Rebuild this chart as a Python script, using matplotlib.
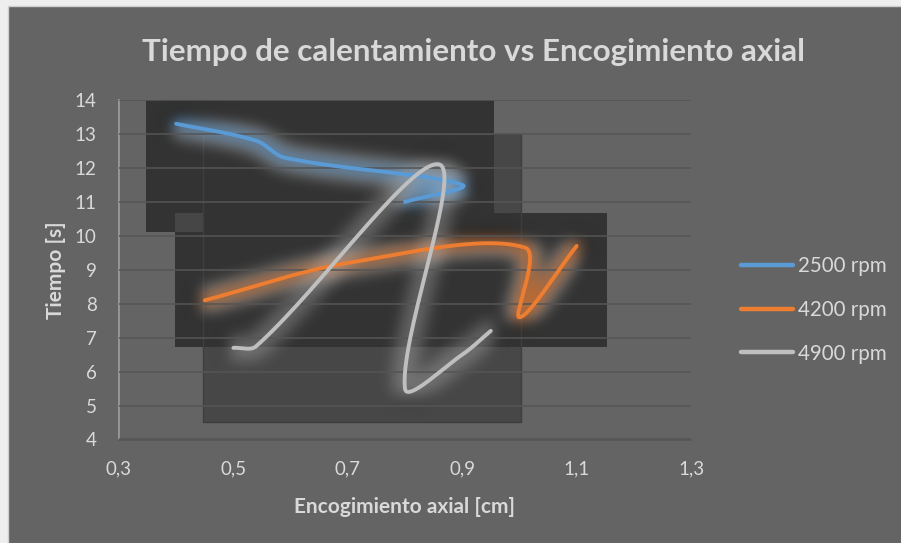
import numpy as np
import matplotlib
matplotlib.use("Agg")
import matplotlib.pyplot as plt
from matplotlib.patches import Rectangle
from matplotlib.ticker import FuncFormatter

# ---- data -------------------------------------------------------------
series_names = ["2500 rpm", "4200 rpm", "4900 rpm"]
x_2500 = [0.40, 0.54, 0.59, 0.90, 0.80]
y_2500 = [13.3, 12.8, 12.3, 11.5, 11.0]
x_4200 = [0.45, 0.70, 1.01, 1.00, 1.10]
y_4200 = [8.1, 9.2, 9.65, 7.6, 9.7]
x_4900 = [0.50, 0.54, 0.86, 0.80, 0.90, 0.95]
y_4900 = [6.7, 6.75, 12.1, 5.5, 6.5, 7.2]
x_ticks = [0.3, 0.5, 0.7, 0.9, 1.1, 1.3]
y_ticks = list(range(4, 15))

colors = ["#5b9bd5", "#ed7d31", "#bfbfbf"]
glow_alpha = [0.8, 0.75, 0.4]
box_colors = ["#333333", "#333333", "#474747"]

BG = "#646464"
TXT = "#d9d9d9"
FONT = ["Lato", "DejaVu Sans"]
plt.rcParams["font.family"] = FONT


def smooth(ax, xs, ys, n=80):
    """Bezier smoothing in screen space, handle lengths scaled by segment length."""
    p = ax.transData.transform(np.column_stack([xs, ys]).astype(float))
    m = len(p)
    d = np.hypot(*np.diff(p, axis=0).T)
    out = []
    for i in range(m - 1):
        a, b = p[i], p[i + 1]
        prev = p[i - 1] if i > 0 else a
        nxt = p[i + 2] if i + 2 < m else b
        da = d[i - 1] if i > 0 else d[i]
        db = d[i + 1] if i + 2 < m else d[i]
        c1 = a + (b - prev) / 3.0 * d[i] / (da + d[i]) if i > 0 else a + (b - a) / 3.0
        c2 = b - (nxt - a) / 3.0 * d[i] / (d[i] + db) if i + 2 < m else b - (b - a) / 3.0
        t = np.linspace(0, 1, n)[:, None]
        seg = ((1 - t) ** 3) * a + 3 * ((1 - t) ** 2) * t * c1 \
            + 3 * (1 - t) * t ** 2 * c2 + t ** 3 * b
        out.append(seg if i == 0 else seg[1:])
    pts = ax.transData.inverted().transform(np.vstack(out))
    return pts[:, 0], pts[:, 1]


def gaussian_blur(sigma, alpha):
    def filt(im, dpi):
        s = sigma * dpi / 72.0
        pad = int(3 * s) + 2
        a = np.pad(im, ((pad, pad), (pad, pad), (0, 0)))
        r = int(3 * s)
        k = np.exp(-0.5 * (np.arange(-r, r + 1) / s) ** 2)
        k /= k.sum()
        for axis in (0, 1):
            acc = np.zeros_like(a)
            for j, w in zip(range(-r, r + 1), k):
                acc += w * np.roll(a, j, axis=axis)
            a = acc
        a[..., 3] = np.clip(a[..., 3] * alpha, 0, 1)
        return a, -pad, -pad
    return filt


fig = plt.figure(figsize=(9.01, 5.43), dpi=100, facecolor="#eeeeee")
fig.patches.append(Rectangle((8 / 901, -0.1), 1.2, 1.1 - 6 / 543,
                             transform=fig.transFigure, facecolor=BG,
                             edgecolor="#cfcfcf", linewidth=1.0, zorder=-5))

ax = fig.add_axes([119 / 901, 1 - 439.5 / 543, 572 / 901, 339.5 / 543])
ax.set_zorder(1)
ax.set_facecolor("none")
ax.set_xlim(0.3, 1.3)
ax.set_ylim(4, 14)
fig.canvas.draw()

curves = [smooth(ax, xs, ys) for xs, ys in
          [(x_2500, y_2500), (x_4200, y_4200), (x_4900, y_4900)]]

# glow bounding boxes (30 px around each curve)
inv = ax.transData.inverted()
boxes = []
for cx, cy in curves:
    pix = ax.transData.transform(np.column_stack([cx, cy]))
    lo = pix.min(axis=0) - 30
    hi = pix.max(axis=0) + 30
    (x0, y0), (x1, y1) = inv.transform([lo, hi])
    boxes.append((x0, y0, x1, y1))

for i in [2, 1, 0]:
    x0, y0, x1, y1 = boxes[i]
    ax.add_patch(Rectangle((x0, y0), x1 - x0, y1 - y0, facecolor=box_colors[i],
                           edgecolor="none", zorder=1))
# lighter patch where the first two boxes overlap outside the third
b0, b1, b2 = boxes
ix0, ix1 = max(b0[0], b1[0]), min(b0[2], b1[2], b2[0])
iy0, iy1 = max(b0[1], b1[1]), min(b0[3], b1[3])
if ix1 > ix0 and iy1 > iy0:
    ax.add_patch(Rectangle((ix0, iy0), ix1 - ix0, iy1 - iy0,
                           facecolor="#464646", edgecolor="none", zorder=1.1))
# faint outline of the wide box showing through
x0, y0, x1, y1 = boxes[2]
ax.add_patch(Rectangle((x0, y0), x1 - x0, y1 - y0, facecolor="none",
                       edgecolor="#3e3e3e", linewidth=1.0, zorder=1.2))

ax.grid(axis="y", color="#555555", linewidth=1.1, zorder=1.5)
ax.set_axisbelow(False)
ax.tick_params(axis="both", length=0, colors=TXT, labelsize=13.5)
ax.set_xticks(x_ticks)
ax.set_yticks(y_ticks)
ax.xaxis.set_major_formatter(FuncFormatter(lambda v, p: f"{v:.1f}".replace(".", ",")))
ax.yaxis.set_major_formatter(FuncFormatter(lambda v, p: f"{v:.0f}"))
ax.tick_params(axis="x", pad=15)
ax.tick_params(axis="y", pad=16)
for s in ["top", "right"]:
    ax.spines[s].set_visible(False)
ax.spines["left"].set_color("#9a9a9a")
ax.spines["left"].set_linewidth(1.3)
ax.spines["bottom"].set_color("#555555")
ax.spines["bottom"].set_linewidth(1.1)

for (cx, cy), c, ga in zip(curves, colors, glow_alpha):
    g, = ax.plot(cx, cy, color=c, linewidth=13, solid_capstyle="round", zorder=2)
    g.set_agg_filter(gaussian_blur(6, ga))
    g.set_rasterized(True)
for (cx, cy), c, name in zip(curves, colors, series_names):
    ax.plot(cx, cy, color=c, linewidth=2.8, solid_capstyle="round",
            solid_joinstyle="round", zorder=3, label=name)

fig.text(474 / 901, 1 - 52 / 543, "Tiempo de calentamiento vs Encogimiento axial",
         ha="center", va="center", fontsize=22.6, fontweight="bold", color=TXT)
ax.set_xlabel("Encogimiento axial [cm]", fontsize=15, fontweight="bold",
              color=TXT, labelpad=14)
ax.set_ylabel("Tiempo [s]", fontsize=15, fontweight="bold", color=TXT,
              labelpad=6)

handles, labels = ax.get_legend_handles_labels()
leg = fig.legend(handles, labels, loc="center left",
                 bbox_to_anchor=(741 / 901, 1 - 310 / 543),
                 frameon=False, fontsize=14.8, handlelength=2.55,
                 handletextpad=0.22, labelspacing=1.15, borderpad=0,
                 borderaxespad=0)
for h in leg.get_lines():
    h.set_linewidth(3.2)
for t in leg.get_texts():
    t.set_color(TXT)

fig.savefig("out.png", dpi=100, facecolor=fig.get_facecolor())
